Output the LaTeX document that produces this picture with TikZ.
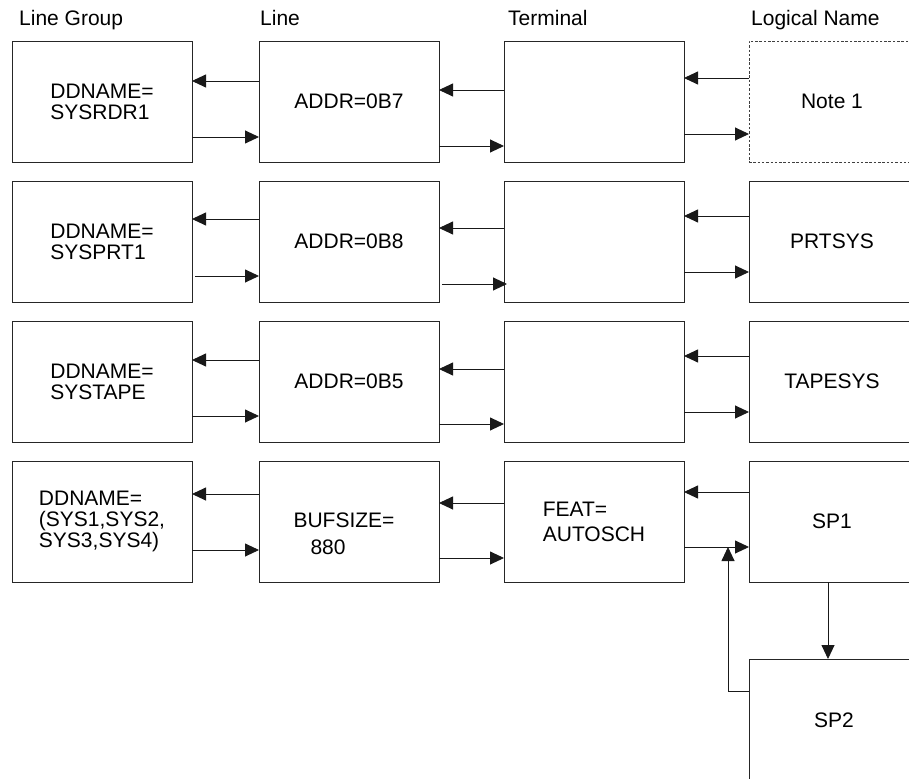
\documentclass[tikz,border=0pt]{standalone}
\usepackage{fontspec}
\setmainfont{Liberation Sans}
\usetikzlibrary{arrows.meta,calc}
\begin{document}
\begin{tikzpicture}[x=1pt,y=-1pt,
  lbl/.style={font=\fontsize{21}{21}\selectfont, inner sep=0pt, anchor=base west},
  box/.style={draw=black!85, line width=0.9pt, minimum width=180pt, minimum height=121pt,
    inner sep=0pt, outer sep=0pt, anchor=north west, align=left,
    font=\fontsize{21}{21}\selectfont},
  lbox/.style={box, minimum width=176pt},
  dbox/.style={lbox, draw=black!75, dash pattern=on 2.5pt off 1.8pt},
  txt/.style={inner sep=0pt, align=left},
  arr/.style={draw=black!90, line width=0.9pt, -{Triangle[length=14pt,width=13pt]}}]
\useasboundingbox (0,0) rectangle (909,778);
\clip (0,0) rectangle (909,778);

% headers
\node[lbl] (h1) at (19,26) {Line Group};
\node[lbl] (h2) at (260,26) {Line};
\node[lbl] (h3) at (508,26) {Terminal};
\node[lbl] (h4) at (751,26) {Logical Name};

% row 1
\node[box] (lg1) at (12,41) {DDNAME=\\SYSRDR1};
\node[box] (ln1) at (259,41) {ADDR=0B7};
\node[box] (te1) at (504,41) {};
\node[dbox] (lo1) at (749,41) {};
\node (lo1t) at ($(lo1.center)+(-5,0)$) [txt, font=\fontsize{21}{21}\selectfont] {Note 1};

% row 2
\node[box] (lg2) at (12,181) {DDNAME=\\SYSPRT1};
\node[box] (ln2) at (259,181) {ADDR=0B8};
\node[box] (te2) at (504,181) {};
\node[lbox] (lo2) at (749,181) {PRTSYS\hspace*{10pt}};

% row 3
\node[box] (lg3) at (12,321) {DDNAME=\\SYSTAPE};
\node[box] (ln3) at (259,321) {ADDR=0B5};
\node[box] (te3) at (504,321) {};
\node[lbox] (lo3) at (749,321) {TAPESYS\hspace*{10pt}};

% row 4
\node[box] (lg4) at (12,461) {DDNAME=\\(SYS1,SYS2,\\SYS3,SYS4)};
\node[box] (ln4) at (259,461) {};
\node (ln4t) at ($(ln4.center)+(-5,12)$) [txt, font=\fontsize{21}{27}\selectfont] {BUFSIZE=\\\hspace*{17pt}880};
\node[box, font=\fontsize{21}{25}\selectfont] (te4) at (504,461) {FEAT=\\AUTOSCH};
\node[lbox] (sp1) at (749,461) {SP1\hspace*{10pt}};
\node[lbox, minimum height=160pt] (sp2) at (749,659) {};
\node (sp2t) at (834,720) [txt, font=\fontsize{21}{21}\selectfont] {SP2};

% row 1 connectors
\draw[arr] (ln1.west |- 0,81) -- (lg1.east |- 0,81);
\draw[arr] (lg1.east |- 0,137) -- (ln1.west |- 0,137);
\draw[arr] (te1.west |- 0,90) -- (ln1.east |- 0,90);
\draw[arr] (ln1.east |- 0,146) -- (te1.west |- 0,146);
\draw[arr] (lo1.west |- 0,78) -- (te1.east |- 0,78);
\draw[arr] (te1.east |- 0,134) -- (lo1.west |- 0,134);

% row 2 connectors
\draw[arr] (ln2.west |- 0,219) -- (lg2.east |- 0,219);
\draw[arr] ([xshift=3pt]lg2.east |- 0,276) -- (ln2.west |- 0,276);
\draw[arr] (te2.west |- 0,228) -- (ln2.east |- 0,228);
\draw[arr] ([xshift=3pt]ln2.east |- 0,284) -- ([xshift=3pt]te2.west |- 0,284);
\draw[arr] (lo2.west |- 0,216) -- (te2.east |- 0,216);
\draw[arr] (te2.east |- 0,272) -- (lo2.west |- 0,272);

% row 3 connectors
\draw[arr] (ln3.west |- 0,360) -- (lg3.east |- 0,360);
\draw[arr] (lg3.east |- 0,416) -- (ln3.west |- 0,416);
\draw[arr] (te3.west |- 0,369) -- (ln3.east |- 0,369);
\draw[arr] (ln3.east |- 0,424) -- (te3.west |- 0,424);
\draw[arr] (lo3.west |- 0,356) -- (te3.east |- 0,356);
\draw[arr] (te3.east |- 0,412) -- (lo3.west |- 0,412);

% row 4 connectors
\draw[arr] (ln4.west |- 0,494) -- (lg4.east |- 0,494);
\draw[arr] (lg4.east |- 0,550) -- (ln4.west |- 0,550);
\draw[arr] (te4.west |- 0,503) -- (ln4.east |- 0,503);
\draw[arr] (ln4.east |- 0,558) -- (te4.west |- 0,558);
\draw[arr] (sp1.west |- 0,492) -- (te4.east |- 0,492);
\draw[arr] (te4.east |- 0,547) -- (sp1.west |- 0,547);

% SP1 -> SP2 and back
\coordinate (back) at (728,547);
\draw[arr] (sp1.south -| 828,0) -- (sp2.north -| 828,0);
\draw[arr] (sp2.west |- 0,691) -| (back);
\end{tikzpicture}
\end{document}
